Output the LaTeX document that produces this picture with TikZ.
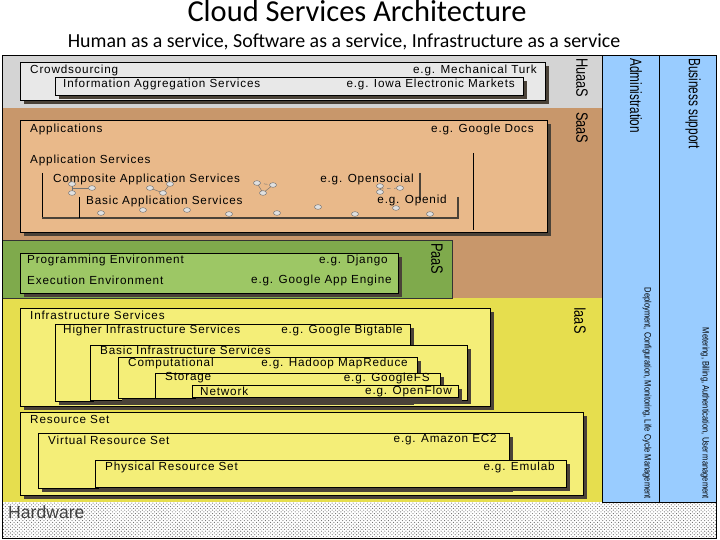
\documentclass[tikz,border=0pt]{standalone}
\usepackage{tikz}
\usetikzlibrary{positioning}
\usetikzlibrary{shadows,patterns}
\usepackage{xcolor}
\usepackage{graphicx}
\usepackage{fontspec}
\setmainfont{Liberation Sans}
\newfontfamily\titlefont{Carlito}
\newfontfamily\lblfont[LetterSpace=7]{Liberation Sans}
\definecolor{HuaasColor}{HTML}{D4D4D4}
\definecolor{HuaasBox}{HTML}{E8E8E8}
\definecolor{SaasColor}{HTML}{C8976B}
\definecolor{SaasBox}{HTML}{E9B98A}
\definecolor{PaasColor}{HTML}{7FAA4C}
\definecolor{PaasBox}{HTML}{9DC765}
\definecolor{IaasColor}{HTML}{E6DE4E}
\definecolor{IaasBox}{HTML}{F4EE78}
\definecolor{AdminColor}{HTML}{99CCFF}
\definecolor{ShadeColor}{HTML}{4A4238}
\newcommand{\narrow}[2][.78]{\scalebox{#1}[1]{#2}}

\begin{document}
\begin{tikzpicture}[x=0.03cm,y=-0.03cm,
    lbl/.style={font=\lblfont\fontsize{10}{11}\selectfont, inner sep=0pt},
    layer/.style={font=\fontsize{14}{16}\selectfont, rotate=-90, inner sep=0pt, anchor=west},
    side/.style={font=\fontsize{8}{9}\selectfont, rotate=-90, inner sep=0pt, anchor=east},
    box/.style={draw=black, line width=.6pt, drop shadow={shadow xshift=3.5pt, shadow yshift=-3pt, opacity=1, fill=ShadeColor}},
    svc/.style={draw=black!55, fill=black!12, line width=.4pt}]
				\useasboundingbox (0,0) rectangle (720,540);
				\node[font=\titlefont\fontsize{26}{30}\selectfont] (title) at (357,11) {Cloud Services Architecture};
				\node[font=\titlefont\fontsize{17}{20}\selectfont] (sub) at (344,42) {Human as a service, Software as a service, Infrastructure as a service};

				\fill[HuaasColor] (2,55) rectangle (602,108);
				\fill[SaasColor] (2,108) rectangle (602,298);
				\fill[IaasColor] (2,298) rectangle (602,502);
				\draw[black!80, fill=PaasColor] (2,240) rectangle (452,298);
				\fill[white, pattern=crosshatch dots, pattern color=black!60] (2,502) rectangle (716,538);
				\draw[fill=AdminColor] (602,55) rectangle (659,502);
				\draw[fill=AdminColor] (659,55) rectangle (716,502);
				\draw (2,55) rectangle (716,538);

				\path[box, fill=HuaasBox] (20,62) rectangle (545,100);
				\node[lbl, anchor=west] (crowd) at (30,70) {Crowdsourcing};
				\node[lbl, anchor=east] (turk) at (537,70) {e.g. Mechanical Turk};
				\path[box, fill=HuaasBox] (55,77) rectangle (523,95);
				\node[lbl, anchor=west] (infoagg) at (63,84) {Information Aggregation Services};
				\node[lbl, anchor=east] (iowa) at (515,84) {e.g. Iowa Electronic Markets};
				\node[layer] (huaas) at (582,58) {\narrow{HuaaS}};

				\path[box, fill=SaasBox] (20,120) rectangle (547,232);
				\node[lbl, anchor=west] (apps) at (30,129) {Applications};
				\node[lbl, anchor=east] (gdocs) at (534,129) {e.g. Google Docs};
				\draw (473,153) -- (473,230);
				\node[lbl, anchor=west] (appsvc) at (30,160) {Application Services};
				\draw (42,173) -- (42,218);
				\draw[ShadeColor, line width=1.5pt] (42,218) -- (458,218);
				\draw[ShadeColor, line width=2.5pt] (420,173) -- (420,200);
				\node[lbl, anchor=west] (compsvc) at (53,179) {Composite Application Services};
				\node[lbl, anchor=east] (opensoc) at (414,179) {e.g. Opensocial};
				\draw (79,197) -- (79,218);
				\draw[ShadeColor, line width=2.5pt] (458,197) -- (458,219);
				\node[lbl, anchor=west] (basicsvc) at (86,201) {Basic Application Services};
				\node[lbl, anchor=east] (openid) at (447,200) {e.g. Openid};
				\draw[black!55] (72,184) -- (72,193) (72,188) -- (92,188);
				\draw[black!55] (150,188) -- (163,193) -- (170,184);
				\draw[black!55] (257,183) -- (263,193) -- (273,185);
				\draw[black!55, dashed] (257,183) -- (273,185);
				\draw[black!55] (380,186) -- (380,192);
				\draw[black!55, dashed] (380,189) -- (400,188);
				\path[svc] (72,184) ellipse [x radius=3pt, y radius=2pt] (72,193) ellipse [x radius=3pt, y radius=2pt]
				  (92,188) ellipse [x radius=3pt, y radius=2pt] (150,188) ellipse [x radius=3pt, y radius=2pt]
				  (163,193) ellipse [x radius=3pt, y radius=2pt] (170,184) ellipse [x radius=3pt, y radius=2pt]
				  (257,183) ellipse [x radius=3pt, y radius=2pt] (263,193) ellipse [x radius=3pt, y radius=2pt]
				  (273,185) ellipse [x radius=3pt, y radius=2pt] (380,186) ellipse [x radius=3pt, y radius=2pt]
				  (380,192) ellipse [x radius=3pt, y radius=2pt] (400,188) ellipse [x radius=3pt, y radius=2pt];
				\path[svc] (101,213) ellipse [x radius=3pt, y radius=2pt] (143,210) ellipse [x radius=3pt, y radius=2pt]
				  (187,210) ellipse [x radius=3pt, y radius=2pt] (229,214) ellipse [x radius=3pt, y radius=2pt]
				  (277,213) ellipse [x radius=3pt, y radius=2pt] (318,207) ellipse [x radius=3pt, y radius=2pt]
				  (355,214) ellipse [x radius=3pt, y radius=2pt] (396,208) ellipse [x radius=3pt, y radius=2pt]
				  (430,214) ellipse [x radius=3pt, y radius=2pt];
				\node[layer] (saas) at (582,112) {\narrow{SaaS}};

				\path[box, fill=PaasBox] (20,253) rectangle (398,293);
				\node[lbl, anchor=west] (progenv) at (27,260) {Programming Environment};
				\node[lbl, anchor=east] (django) at (388,260) {e.g. Django};
				\node[lbl, anchor=west] (execenv) at (27,280) {Execution Environment};
				\node[lbl, anchor=east] (gae) at (392,280) {e.g. Google App Engine};
				\node[layer] (paas) at (437,243) {\narrow{PaaS}};

				\path[box, fill=IaasBox] (20,308) rectangle (490,406);
				\node[lbl, anchor=west] (infrasvc) at (30,315) {Infrastructure Services};
				\path[box, fill=IaasBox] (55,324) rectangle (410,401);
				\node[lbl, anchor=west] (higher) at (63,330) {Higher Infrastructure Services};
				\node[lbl, anchor=east] (bigtable) at (403,330) {e.g. Google Bigtable};
				\path[box, fill=IaasBox] (90,345) rectangle (467,400);
				\node[lbl, anchor=west] (basicinfra) at (100,350) {Basic Infrastructure Services};
				\path[box, fill=IaasBox] (118,357) rectangle (417,398);
				\node[lbl, anchor=west] (comput) at (128,363) {Computational};
				\node[lbl, anchor=east] (hadoop) at (408,363) {e.g. Hadoop MapReduce};
				\path[box, fill=IaasBox] (155,373) rectangle (440,398);
				\node[lbl, anchor=west] (storage) at (165,378) {Storage};
				\node[lbl, anchor=east] (gfs) at (430,378) {e.g. GoogleFS};
				\path[box, fill=IaasBox] (192,385) rectangle (458,397);
				\node[lbl, anchor=west] (network) at (200,391) {Network};
				\node[lbl, anchor=east] (openflow) at (452,391) {e.g. OpenFlow};

				\path[box, fill=IaasBox] (20,412) rectangle (583,495);
				\node[lbl, anchor=west] (resset) at (30,419) {Resource Set};
				\path[box, fill=IaasBox] (38,433) rectangle (509,488);
				\node[lbl, anchor=west] (virtset) at (48,440) {Virtual Resource Set};
				\node[lbl, anchor=east] (ec2) at (497,440) {e.g. Amazon EC2};
				\path[box, fill=IaasBox] (95,460) rectangle (566,487);
				\node[lbl, anchor=west] (physset) at (105,467) {Physical Resource Set};
				\node[lbl, anchor=east] (emulab) at (555,467) {e.g. Emulab};
				\node[layer] (iaas) at (580,307) {\narrow{IaaS}};

				\node[font=\fontsize{15}{17}\selectfont, text=black!75, anchor=west, inner sep=0pt] (hardware) at (8,512) {Hardware};

				\node[layer] (admin) at (636,58) {\narrow[.72]{Administration}};
				\node[layer] (business) at (693,58) {\narrow[.72]{Business support}};
				\node[side] (deploy) at (647,499) {\narrow[.8]{Deployment, Configuration, Monitoring, Life Cycle Management}};
				\node[side] (metering) at (705,499) {\narrow[.8]{Metering, Billing, Authentication, User management}};
			\end{tikzpicture}
\end{document}
